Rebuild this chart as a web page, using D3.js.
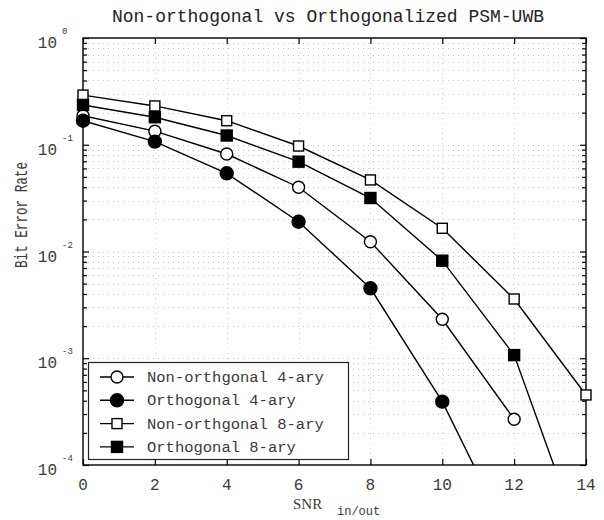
<!DOCTYPE html>
<html>
<head>
<meta charset="utf-8">
<script src="https://cdn.jsdelivr.net/npm/d3@7"></script>
<style>
  html, body { margin: 0; padding: 0; background: #fff; }
  svg { display: block; }
</style>
</head>
<body>
<svg id="chart" width="604" height="520"></svg>
<script>
// SNR values (x axis)
const snr = [0, 2, 4, 6, 8, 10, 12, 14];

// Bit error rate per series (one value per SNR point that is plotted)
const nonOrth4 = [0.187, 0.134, 0.0819, 0.040, 0.01235, 0.00232, 0.000268];
const orth4    = [0.168, 0.107, 0.054, 0.019, 0.00452, 0.000392, 0.000017];
const nonOrth8 = [0.292, 0.231, 0.168, 0.0973, 0.0468, 0.0165, 0.00359, 0.000453];
const orth8    = [0.236, 0.181, 0.122, 0.0694, 0.0317, 0.0082, 0.00107, 0.0000145];

const seriesNames = ["Non-orthgonal 4-ary", "Orthogonal 4-ary", "Non-orthgonal 8-ary", "Orthogonal 8-ary"];
const xTicks = [0, 2, 4, 6, 8, 10, 12, 14];
const yMajorTicks = [1, 1e-1, 1e-2, 1e-3, 1e-4];
const yExponents = ["0", "-1", "-2", "-3", "-4"];

const series = [
  { name: seriesNames[0], values: nonOrth4, shape: "circle", filled: false },
  { name: seriesNames[1], values: orth4,    shape: "circle", filled: true },
  { name: seriesNames[2], values: nonOrth8, shape: "square", filled: false },
  { name: seriesNames[3], values: orth8,    shape: "square", filled: true }
];

const svg = d3.select("#chart");
const L = 83, R = 586, T = 38, B = 465;
const mono = "'Liberation Mono', 'Courier New', monospace";
const textColor = "#3a3a3a";

const x = d3.scaleLinear().domain([0, 14]).range([L, R]);
const y = d3.scaleLog().domain([1e-4, 1]).range([B, T]);

// minor log positions
const yMinor = [];
for (let e = -4; e < 0; e++) {
  for (let m = 2; m <= 9; m++) yMinor.push(m * Math.pow(10, e));
}

// faint dotted grid
const grid = svg.append("g").attr("stroke", "#c4c4c4").attr("stroke-width", 1)
  .attr("stroke-dasharray", "1 4");
yMinor.concat(yMajorTicks.slice(1, 4)).forEach(v => {
  grid.append("line").attr("x1", L).attr("x2", R)
    .attr("y1", Math.round(y(v)) + 0.5).attr("y2", Math.round(y(v)) + 0.5);
});
xTicks.slice(1, -1).forEach(v => {
  grid.append("line").attr("y1", T).attr("y2", B)
    .attr("x1", Math.round(x(v)) + 0.5).attr("x2", Math.round(x(v)) + 0.5)
    .attr("stroke", "#d4d4d4");
});

// axes with inward ticks on all four sides
const axB = d3.axisBottom(x).tickValues(xTicks).tickSize(-6).tickFormat("");
const axT = d3.axisTop(x).tickValues(xTicks).tickSize(-6).tickFormat("");
const axLmaj = d3.axisLeft(y).tickValues(yMajorTicks).tickSize(-6).tickFormat("");
const axLmin = d3.axisLeft(y).tickValues(yMinor).tickSize(-4).tickFormat("");
const axRmaj = d3.axisRight(y).tickValues(yMajorTicks).tickSize(-6).tickFormat("");
const axRmin = d3.axisRight(y).tickValues(yMinor).tickSize(-4).tickFormat("");

function styleAxis(g) {
  g.select(".domain").remove();
  g.selectAll("line").attr("stroke", "#000").attr("stroke-width", 1.2);
}
svg.append("g").attr("transform", `translate(0,${B})`).call(axB).call(styleAxis);
svg.append("g").attr("transform", `translate(0,${T})`).call(axT).call(styleAxis);
svg.append("g").attr("transform", `translate(${L},0)`).call(axLmaj).call(styleAxis);
svg.append("g").attr("transform", `translate(${L},0)`).call(axLmin).call(styleAxis);
svg.append("g").attr("transform", `translate(${R},0)`).call(axRmaj).call(styleAxis);
svg.append("g").attr("transform", `translate(${R},0)`).call(axRmin).call(styleAxis);

// frame
svg.append("rect").attr("x", L).attr("y", T).attr("width", R - L).attr("height", B - T)
  .attr("fill", "none").attr("stroke", "#000").attr("stroke-width", 1.4);

// x tick labels
svg.append("g").selectAll("text").data(xTicks).join("text")
  .attr("x", d => x(d)).attr("y", 490)
  .attr("text-anchor", "middle")
  .attr("font-family", mono).attr("font-size", 16).attr("fill", textColor)
  .text(d => d);

// y tick labels: 10 with exponent
yMajorTicks.forEach((v, i) => {
  const ty = y(v);
  svg.append("text").attr("x", 57).attr("y", ty + 10)
    .attr("text-anchor", "end").attr("font-family", mono).attr("font-size", 16)
    .attr("fill", textColor).text("10");
  svg.append("text").attr("x", 62).attr("y", ty - 4)
    .attr("font-family", mono).attr("font-size", 9)
    .attr("fill", textColor).text(yExponents[i]);
});

// title
svg.append("text").attr("x", 328).attr("y", 22).attr("text-anchor", "middle")
  .attr("font-family", mono).attr("font-size", 18).attr("fill", "#222")
  .text("Non-orthogonal vs Orthogonalized PSM-UWB");

// y label
svg.append("text")
  .attr("transform", "translate(27,215) rotate(-90)")
  .attr("text-anchor", "middle")
  .attr("font-family", mono).attr("font-size", 18).attr("fill", textColor)
  .attr("textLength", 106).attr("lengthAdjust", "spacingAndGlyphs")
  .text("Bit Error Rate");

// x label with subscript
svg.append("text").attr("x", 293).attr("y", 509)
  .attr("font-family", "'Liberation Serif', serif").attr("font-size", 15).attr("fill", textColor)
  .text("SNR");
svg.append("text").attr("x", 337).attr("y", 515)
  .attr("font-family", mono).attr("font-size", 12).attr("fill", textColor)
  .text("in/out");

// clip region for the curves
svg.append("clipPath").attr("id", "plotclip").append("rect")
  .attr("x", L).attr("y", T).attr("width", R - L).attr("height", B - T);

const line = d3.line().x(d => x(d.s)).y(d => y(d.v));

function drawMarker(g, cx, cy, s) {
  const fill = s.filled ? "#000" : "#fff";
  if (s.shape === "circle") {
    g.append("circle").attr("cx", cx).attr("cy", cy).attr("r", s.filled ? 6.5 : 6)
      .attr("fill", fill).attr("stroke", "#000").attr("stroke-width", 1.4);
  } else {
    const h = s.filled ? 5.5 : 5;
    g.append("rect").attr("x", cx - h).attr("y", cy - h).attr("width", 2 * h).attr("height", 2 * h)
      .attr("fill", fill).attr("stroke", "#000").attr("stroke-width", 1.4);
  }
}

const plot = svg.append("g").attr("clip-path", "url(#plotclip)");
series.forEach(s => {
  const pts = s.values.map((v, i) => ({ s: snr[i], v }));
  plot.append("path").datum(pts).attr("d", line)
    .attr("fill", "none").attr("stroke", "#000").attr("stroke-width", 1.4);
});
// markers for points inside the y range (drawn unclipped so edge points stay whole)
const marks = svg.append("g");
series.forEach(s => {
  s.values.forEach((v, i) => {
    if (v >= 1e-4) drawMarker(marks, x(snr[i]), y(v), s);
  });
});

// legend
const lg = svg.append("g");
lg.append("rect").attr("x", 88.5).attr("y", 362.5).attr("width", 260).attr("height", 97)
  .attr("fill", "#fff").attr("stroke", "#222").attr("stroke-width", 1.2);
series.forEach((s, i) => {
  const ly = 377 + i * 23.3;
  lg.append("line").attr("x1", 100).attr("x2", 134).attr("y1", ly).attr("y2", ly)
    .attr("stroke", "#000").attr("stroke-width", 1.4);
  drawMarker(lg, 117, ly, s);
  lg.append("text").attr("x", 147).attr("y", ly + 5)
    .attr("font-family", mono).attr("font-size", 15.5).attr("fill", textColor)
    .text(s.name);
});
</script>
</body>
</html>
